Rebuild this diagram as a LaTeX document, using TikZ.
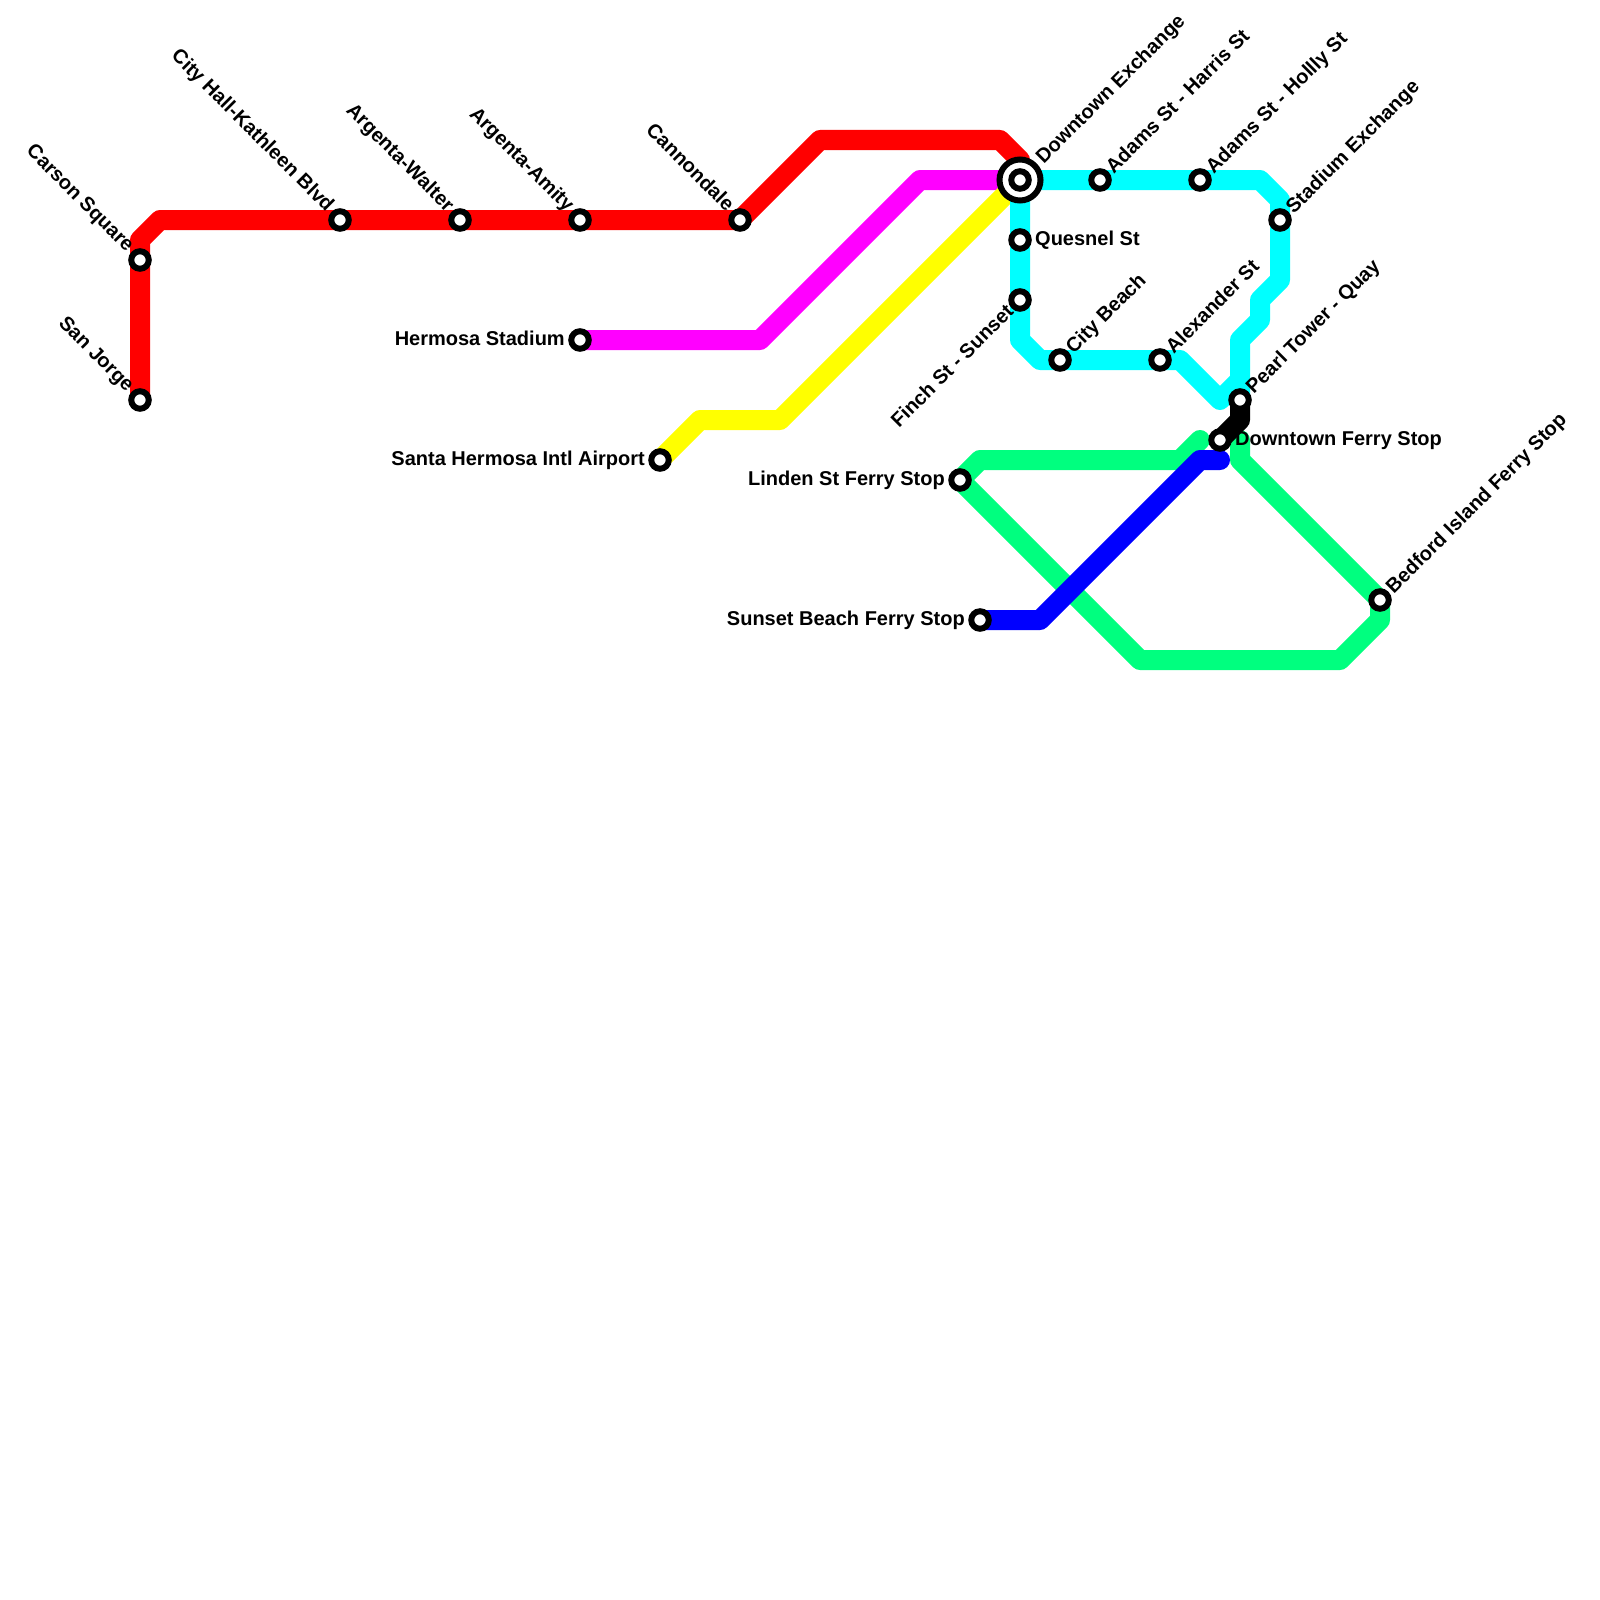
\documentclass[tikz,border=0pt]{standalone}
\usepackage{fontspec}
\setmainfont{Liberation Sans}
\usetikzlibrary{backgrounds}
\definecolor{lred}{RGB}{255,0,0}
\definecolor{lmag}{RGB}{255,0,255}
\definecolor{lyel}{RGB}{255,255,0}
\definecolor{lcya}{RGB}{0,255,255}
\definecolor{lgrn}{RGB}{0,255,127}
\definecolor{lblu}{RGB}{0,0,255}
\tikzset{
  stn/.style={circle,draw=black,fill=white,line width=6pt,minimum size=17.5pt,inner sep=0pt,outer sep=0pt},
  hub/.style={circle,draw=black,fill=white,line width=6pt,minimum size=41pt,inner sep=0pt,outer sep=0pt},
  lbl/.style={font=\bfseries\fontsize{20}{24}\selectfont,text=black,inner sep=0pt,text height=14.5pt,text depth=4pt},
  ur/.style={lbl,rotate=45,anchor=west},
  ul/.style={lbl,rotate=-45,anchor=east},
  dl/.style={lbl,rotate=45,anchor=east},
  rt/.style={lbl,anchor=west},
  lf/.style={lbl,anchor=east},
  metro/.style={line width=20pt,line join=round,line cap=round},
}
\begin{document}
\begin{tikzpicture}[x=1pt,y=-1pt]
\useasboundingbox (0,0) rectangle (1600,1600);
% stations
\node[stn] (sj) at (140,400) {};
\node[stn] (cs) at (140,260) {};
\node[stn] (ch) at (340,220) {};
\node[stn] (aw) at (460,220) {};
\node[stn] (aa) at (580,220) {};
\node[stn] (cn) at (740,220) {};
\node[hub] (dxo) at (1020,180) {};
\node[stn] (dx) at (1020,180) {};
\node[stn] (ah) at (1100,180) {};
\node[stn] (ay) at (1200,180) {};
\node[stn] (se) at (1280,220) {};
\node[stn] (qs) at (1020,240) {};
\node[stn] (fs) at (1020,300) {};
\node[stn] (cb) at (1060,360) {};
\node[stn] (al) at (1160,360) {};
\node[stn] (pt) at (1240,400) {};
\node[stn] (df) at (1220,440) {};
\node[stn] (hs) at (580,340) {};
\node[stn] (sh) at (660,460) {};
\node[stn] (ls) at (960,480) {};
\node[stn] (sb) at (980,620) {};
\node[stn] (bi) at (1380,600) {};
% labels
\node[ul] (lsj) at (130,389) {San Jorge};
\node[ul] (lcs) at (130,249) {Carson Square};
\node[ul] (lch) at (330,209) {City Hall-Kathleen Blvd};
\node[ul] (law) at (450,209) {Argenta-Walter};
\node[ul] (laa) at (570,209) {Argenta-Amity};
\node[ul] (lcn) at (730,209) {Cannondale};
\node[ur] (ldx) at (1040,161) {Downtown Exchange};
\node[ur] (lah) at (1110,171) {Adams St - Harris St};
\node[ur] (lay) at (1210,171) {Adams St - Hollly St};
\node[ur] (lse) at (1290,211) {Stadium Exchange};
\node[rt] (lqs) at (1035,240) {Quesnel St};
\node[dl] (lfs) at (1011,309) {Finch St - Sunset};
\node[ur] (lcb) at (1070,351) {City Beach};
\node[ur] (lal) at (1170,351) {Alexander St};
\node[ur] (lpt) at (1250,391) {Pearl Tower - Quay};
\node[rt] (ldf) at (1235,440) {Downtown Ferry Stop};
\node[lf] (lhs) at (565,340) {Hermosa Stadium};
\node[lf] (lsh) at (645,460) {Santa Hermosa Intl Airport};
\node[lf] (lls) at (945,480) {Linden St Ferry Stop};
\node[lf] (lsb) at (965,620) {Sunset Beach Ferry Stop};
\node[ur] (lbi) at (1390,591) {Bedford Island Ferry Stop};
% bends
\coordinate (r1) at (140,240); \coordinate (r2) at (160,220);
\coordinate (r3) at (820,140); \coordinate (r4) at (1000,140);
\coordinate (r5) at (1020,160);
\coordinate (m1) at (760,340); \coordinate (m2) at (920,180);
\coordinate (y1) at (700,420); \coordinate (y2) at (780,420);
\coordinate (c1) at (1260,180); \coordinate (c2) at (1280,200);
\coordinate (c3) at (1280,280); \coordinate (c4) at (1260,300);
\coordinate (c5) at (1260,320); \coordinate (c6) at (1240,340);
\coordinate (c7) at (1240,380); \coordinate (c8) at (1220,400);
\coordinate (c9) at (1180,360); \coordinate (c10) at (1040,360);
\coordinate (c11) at (1020,340);
\coordinate (g1) at (980,460); \coordinate (g2) at (1180,460);
\coordinate (g3) at (1200,440); \coordinate (g4) at (1240,440);
\coordinate (g5) at (1240,460); \coordinate (g6) at (1380,620);
\coordinate (g7) at (1340,660); \coordinate (g8) at (1140,660);
\coordinate (b1) at (1040,620); \coordinate (b2) at (1200,460);
\coordinate (b3) at (1220,460);
\coordinate (k1) at (1240,420);
\begin{scope}[on background layer]
\draw[metro,lred] (sj.center) -- (r1) -- (r2) -- (cn.center) -- (r3) -- (r4) -- (r5) -- (dx.center);
\draw[metro,lmag] (hs.center) -- (m1) -- (m2) -- (dx.center);
\draw[metro,lyel] (sh.center) -- (y1) -- (y2) -- (dx.center);
\draw[metro,lcya] (dx.center) -- (c1) -- (c2) -- (c3) -- (c4) -- (c5) -- (c6) -- (pt.center);
\draw[metro,lcya] (c7) -- (c8) -- (c9) -- (c10) -- (c11) -- (dx.center);
\draw[metro,lgrn] (ls.center) -- (g1) -- (g2) -- (g3);
\draw[metro,lgrn] (g4) -- (g5) -- (bi.center) -- (g6) -- (g7) -- (g8) -- (ls.center);
\draw[metro,lblu] (sb.center) -- (b1) -- (b2) -- (b3);
\draw[metro,black] (pt.center) -- (k1) -- (df.center);
\end{scope}
\end{tikzpicture}
\end{document}
